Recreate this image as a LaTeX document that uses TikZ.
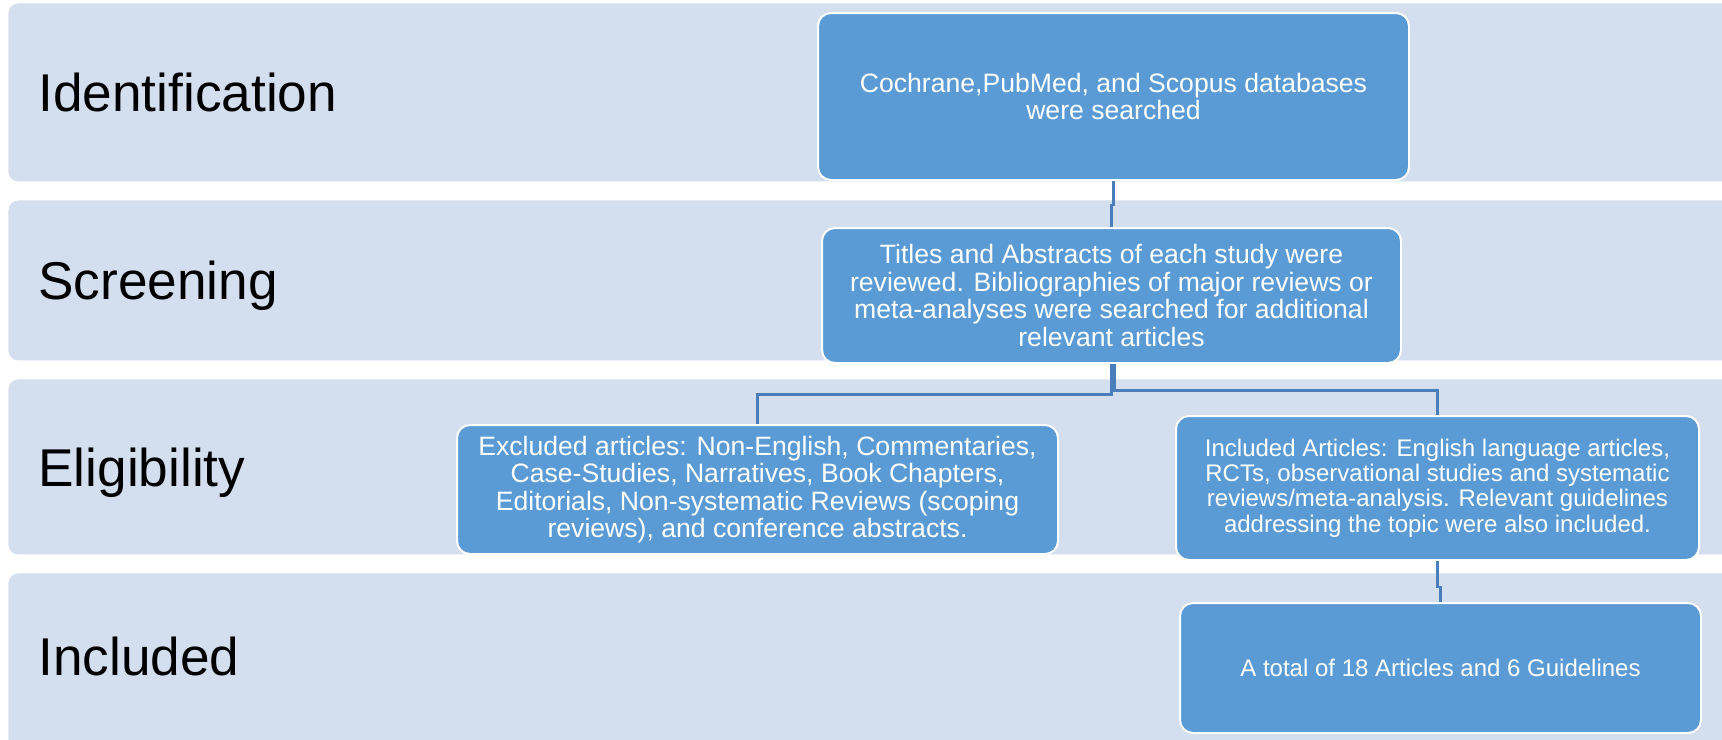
\documentclass[tikz,border=0pt]{standalone}
\usepackage{fontspec}
\setmainfont{Liberation Sans}
\definecolor{bandfill}{RGB}{211,222,239}
\definecolor{boxfill}{RGB}{91,155,213}
\definecolor{linkcol}{RGB}{74,126,187}
\begin{document}
\begin{tikzpicture}[x=0.5pt,y=-0.5pt,
  band/.style={fill=bandfill,draw=none,rounded corners=5pt,inner sep=0pt,anchor=north west,minimum width=900pt},
  lab/.style={anchor=base west,inner sep=0pt,text=black,font=\fontsize{26.6pt}{30pt}\selectfont},
  flowbox/.style={fill=boxfill,draw=white,line width=1pt,rounded corners=6.5pt,text=white,align=center,inner sep=0pt},
  bigtext/.style={font=\fontsize{13.3pt}{13.7pt}\selectfont},
  smalltext/.style={font=\fontsize{12pt}{12.6pt}\selectfont},
  link/.style={draw=linkcol,line width=1.2pt}]
\useasboundingbox (0,0) rectangle (1722,739);
\fill[white] (0,0) rectangle (1722,739);
% bands
\node[band,minimum height=89pt] (bandI) at (8,3) {};
\node[band,minimum height=80pt] (bandS) at (8,200) {};
\node[band,minimum height=87.5pt] (bandE) at (8,379) {};
\node[band,minimum height=95pt] (bandN) at (8,573) {};
% stage labels
\node[lab] (labI) at (38,111) {Identification};
\node[lab] (labS) at (38,299) {Screening};
\node[lab] (labE) at (38,486) {Eligibility};
\node[lab] (labN) at (38,675) {Included};
% boxes
\node[flowbox,bigtext,minimum width=295.5pt,minimum height=83.5pt] (b1) at (1113.5,96.5)
  {Cochrane,PubMed, and Scopus databases\\were searched};
\node[flowbox,bigtext,minimum width=289.5pt,minimum height=67.5pt] (b2) at (1111.5,295.5)
  {Titles and Abstracts of each study were\\reviewed. Bibliographies of major reviews or\\meta-analyses were searched for additional\\relevant articles};
\node[flowbox,bigtext,minimum width=300.5pt,minimum height=64.5pt] (b3) at (757.5,489.5)
  {Excluded articles: Non-English, Commentaries,\\Case-Studies, Narratives, Book Chapters,\\Editorials, Non-systematic Reviews (scoping\\reviews), and conference abstracts.};
\node[flowbox,smalltext,minimum width=261.5pt,minimum height=72pt] (b4) at (1437.5,488)
  {Included Articles: English language articles,\\RCTs, observational studies and systematic\\reviews/meta-analysis. Relevant guidelines\\addressing the topic were also included.};
\node[flowbox,smalltext,minimum width=260.5pt,minimum height=65pt] (b5) at (1440.5,668)
  {A total of 18 Articles and 6 Guidelines};
% connectors
\coordinate (m1) at (0,205);
\coordinate (mL) at (0,394.5);
\coordinate (mR) at (0,390.5);
\coordinate (m4) at (0,587);
\draw[link] (b1.south) -- (b1.south |- m1) -- (b2.north |- m1) -- (b2.north);
\draw[link] (b2.south) -- (b2.south |- mL) -| (b3.north);
\draw[link] ([xshift=1.5pt]b2.south) -- ([xshift=1.5pt]b2.south |- mR) -| (b4.north);
\draw[link] (b4.south) -- (b4.south |- m4) -- (b5.north |- m4) -- (b5.north);
\end{tikzpicture}
\end{document}
